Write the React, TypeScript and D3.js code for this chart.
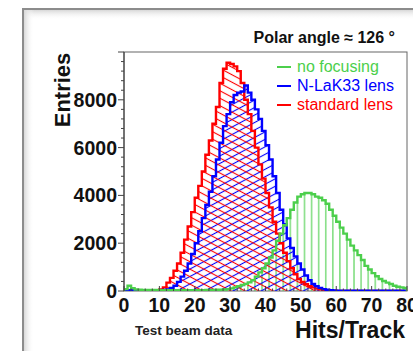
import React from 'react';
import * as d3 from 'd3';

// Entries per 1-hit bin, bins 0..79
const standardLens = [
  0, 20, 10, 0, 0, 0, 0, 0, 0, 0,
  60, 150, 350, 550, 850, 1150, 1600, 2150, 2700, 3300,
  3900, 4400, 5000, 5700, 6300, 7000, 7700, 8700, 9300, 9550,
  9500, 9400, 9200, 8700, 8000, 7400, 6700, 6000, 5300, 4700,
  4100, 3500, 2900, 2400, 2000, 1600, 1250, 950, 700, 500,
  380, 280, 200, 150, 100, 70, 50, 30, 10, 10,
  0, 0, 0, 0, 0, 0, 0, 0, 0, 0,
  0, 0, 0, 0, 0, 0, 0, 0, 0, 0,
];

const nlak33Lens = [
  0, 30, 20, 10, 10, 10, 10, 10, 10, 10,
  20, 40, 70, 130, 220, 380, 600, 850, 1150, 1550,
  2000, 2500, 3050, 3600, 4150, 4800, 5500, 6200, 6900, 7400,
  7900, 8200, 8300, 8350, 8600, 8300, 8000, 7600, 7200, 6700,
  6100, 5500, 4800, 4100, 3400, 2800, 2200, 1800, 1450, 1150,
  900, 650, 450, 300, 200, 130, 80, 50, 30, 20,
  10, 10, 10, 10, 10, 10, 10, 10, 10, 10,
  10, 10, 10, 10, 10, 10, 10, 10, 10, 10,
];

const noFocusing = [
  80, 220, 120, 60, 50, 40, 40, 40, 40, 40,
  30, 30, 30, 30, 30, 30, 30, 30, 30, 30,
  30, 30, 30, 40, 40, 40, 50, 50, 60, 80,
  110, 150, 200, 250, 300, 360, 450, 600, 780, 950,
  1150, 1400, 1700, 2100, 2400, 2750, 3050, 3400, 3700, 3950,
  4050, 4100, 4100, 4050, 3950, 3900, 3800, 3650, 3400, 3150,
  2900, 2650, 2400, 2150, 1900, 1700, 1500, 1300, 1050, 900,
  750, 620, 500, 420, 350, 290, 220, 180, 150, 125,
];

const yTicks = [0, 2000, 4000, 6000, 8000];
const xTicks = [0, 10, 20, 30, 40, 50, 60, 70, 80];

const legend = [
  { label: 'no focusing', color: '#4ccf4c' },
  { label: 'N-LaK33 lens', color: '#0000ff' },
  { label: 'standard lens', color: '#ff0000' },
];

const FONT = '"Liberation Sans", Arial, Helvetica, sans-serif';

export default function App() {
  const x = d3.scaleLinear().domain([0, 80]).range([124, 407]);
  const y = d3.scaleLinear().domain([0, 10000]).range([291, 52]);

  const stepPath = (vals: number[]) => {
    const pts: [number, number][] = [[0, 0]];
    vals.forEach((v, i) => pts.push([i, v]));
    pts.push([vals.length, vals[vals.length - 1]]);
    pts.push([vals.length, 0]);
    return d3
      .line<[number, number]>()
      .x((d) => x(d[0]))
      .y((d) => y(d[1]))
      .curve(d3.curveStepAfter)(pts) as string;
  };

  const minorY = d3.range(0, 10001, 400);
  const minorX = d3.range(0, 81, 2);

  const hists = [
    { vals: noFocusing, color: '#4ccf4c', fill: 'url(#hGreen)' },
    { vals: nlak33Lens, color: '#0000ff', fill: 'url(#hBlue)' },
    { vals: standardLens, color: '#ff0000', fill: 'url(#hRed)' },
  ];

  return (
    <svg width={413} height={351} style={{ position: 'absolute', left: 0, top: 0 }} fontFamily={FONT}>
      <defs>
        <linearGradient id="shTop" x1="0" y1="0" x2="0" y2="1">
          <stop offset="0" stopColor="#d8d8d8" />
          <stop offset="1" stopColor="#ffffff" stopOpacity={0} />
        </linearGradient>
        <linearGradient id="shLeft" x1="0" y1="0" x2="1" y2="0">
          <stop offset="0" stopColor="#d8d8d8" />
          <stop offset="1" stopColor="#ffffff" stopOpacity={0} />
        </linearGradient>
        <pattern id="hRed" patternUnits="userSpaceOnUse" width={8} height={6.6} patternTransform="rotate(28)">
          <line x1={0} y1={3.3} x2={8} y2={3.3} stroke="#ff0000" strokeWidth={1.1} />
        </pattern>
        <pattern id="hBlue" patternUnits="userSpaceOnUse" width={8} height={6.6} patternTransform="rotate(-28)">
          <line x1={0} y1={3.3} x2={8} y2={3.3} stroke="#0000ff" strokeWidth={1.1} />
        </pattern>
        <pattern id="hGreen" patternUnits="userSpaceOnUse" width={7.08} height={10} x={124}>
          <line x1={3.5} y1={0} x2={3.5} y2={10} stroke="#4ccf4c" strokeWidth={1.1} />
        </pattern>
        <clipPath id="plotClip">
          <rect x={124} y={52} width={283} height={239} />
        </clipPath>
      </defs>

      <rect x={0} y={0} width={413} height={351} fill="#fff" />
      {/* outer frame with inner shadow */}
      <rect x={23} y={9} width={400} height={350} fill="#fff" />
      <rect x={24} y={10} width={400} height={10} fill="url(#shTop)" />
      <rect x={24} y={10} width={10} height={350} fill="url(#shLeft)" />
      <rect x={23} y={9} width={400} height={350} fill="none" stroke="#8c8c8c" strokeWidth={2} />

      {/* plot frame */}
      <rect x={124} y={52} width={283} height={239} fill="#fff" stroke="#666" strokeWidth={1} />

      <g clipPath="url(#plotClip)">
        {hists.map((h) => (
          <path key={h.color + 'f'} d={stepPath(h.vals)} fill={h.fill} stroke="none" />
        ))}
        {hists
          .slice()
          .reverse()
          .map((h) => (
            <path
              key={h.color}
              d={stepPath(h.vals)}
              fill="none"
              stroke={h.color}
              strokeWidth={2.4}
              strokeLinejoin="miter"
            />
          ))}
      </g>

      {/* y axis */}
      <line x1={124} y1={52} x2={124} y2={291} stroke="#333" strokeWidth={1} />
      {minorY.map((v) => (
        <line
          key={'my' + v}
          x1={124}
          x2={v % 2000 === 0 ? 118 : 121}
          y1={y(v)}
          y2={y(v)}
          stroke="#444"
          strokeWidth={1}
        />
      ))}
      {yTicks.map((v) => (
        <text
          key={'ty' + v}
          x={117}
          y={y(v)}
          dy="0.36em"
          textAnchor="end"
          fontSize={19.5}
          fontWeight="bold"
          fill="#111"
        >
          {v}
        </text>
      ))}

      {/* x axis */}
      {minorX.map((v) => (
        <line
          key={'mx' + v}
          x1={x(v)}
          x2={x(v)}
          y1={291}
          y2={v % 10 === 0 ? 286 : 288.5}
          stroke="#444"
          strokeWidth={1}
        />
      ))}
      {xTicks.map((v) => (
        <text
          key={'tx' + v}
          x={x(v)}
          y={312}
          textAnchor="middle"
          fontSize={19.5}
          fontWeight="bold"
          fill="#111"
        >
          {v}
        </text>
      ))}

      <text x={0} y={0} transform="translate(70,90) rotate(-90)" textAnchor="middle" fontSize={22} fontWeight="bold" fill="#111">
        Entries
      </text>
      <text x={405} y={338} textAnchor="end" fontSize={23} fontWeight="bold" fill="#111">
        Hits/Track
      </text>
      <text x={135} y={335} fontSize={13.5} fontWeight="bold" fill="#222">
        Test beam data
      </text>
      <text x={395} y={43} textAnchor="end" fontSize={16} fontWeight="bold" fill="#111">
        Polar angle ≈ 126 °
      </text>

      {/* legend */}
      {legend.map((l, i) => (
        <g key={l.label}>
          <line x1={277} x2={291} y1={67 + i * 19} y2={67 + i * 19} stroke={l.color} strokeWidth={2} />
          <text x={297} y={72 + i * 19} fontSize={16} fill={l.color}>
            {l.label}
          </text>
        </g>
      ))}
    </svg>
  );
}
